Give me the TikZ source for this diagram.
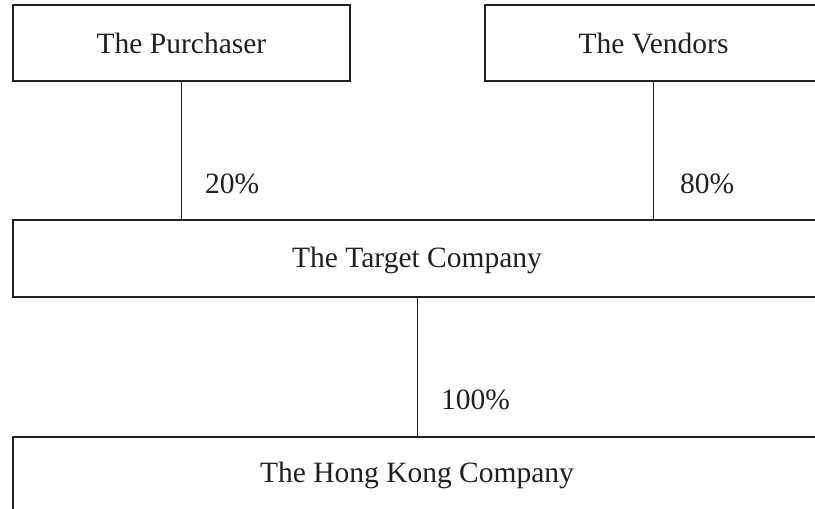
\documentclass[tikz,border=0pt]{standalone}
\usepackage{fontspec}
\setmainfont{Liberation Serif}
\definecolor{ink}{HTML}{231F20}
\begin{document}
\begin{tikzpicture}[x=1pt,y=-1pt,
  box/.style={draw=ink,line width=1.2pt,inner sep=0pt,outer sep=0pt,anchor=north west},
  lbl/.style={font=\fontsize{29.5}{36}\selectfont,text=ink,inner sep=0pt,anchor=base},
  pct/.style={lbl,anchor=base west},
  link/.style={draw=ink,line width=1pt}]
\useasboundingbox (0,0) rectangle (815,509);
\clip (0,0) rectangle (815,509);
% shareholder boxes
\node[box,minimum width=337pt,minimum height=76pt] (pur) at (13,5) {};
\node[box,minimum width=337pt,minimum height=76pt] (ven) at (485,5) {};
% company boxes
\node[box,minimum width=808pt,minimum height=77pt] (tgt) at (13,220) {};
\node[box,minimum width=808pt,minimum height=110pt] (hk) at (13,437) {};
% box titles, set on their baselines
\node[lbl] (purT) at ([yshift=-48pt]pur.north) {The Purchaser};
\node[lbl] (venT) at ([yshift=-48pt]ven.north) {The Vendors};
\node[lbl] (tgtT) at ([yshift=-47pt]tgt.north) {The Target Company};
\node[lbl] (hkT) at ([yshift=-45pt]hk.north) {The Hong Kong Company};
% ownership links
\draw[link] (pur.south) -- (pur.south |- tgt.north);
\draw[link] (ven.south) -- (ven.south |- tgt.north);
\draw[link] (tgt.south) -- (hk.north);
% shareholdings
\node[pct] (p20) at (205,193) {20\%};
\node[pct] (p80) at (680,193) {80\%};
\node[pct] (p100) at (441,409) {100\%};
\end{tikzpicture}
\end{document}
